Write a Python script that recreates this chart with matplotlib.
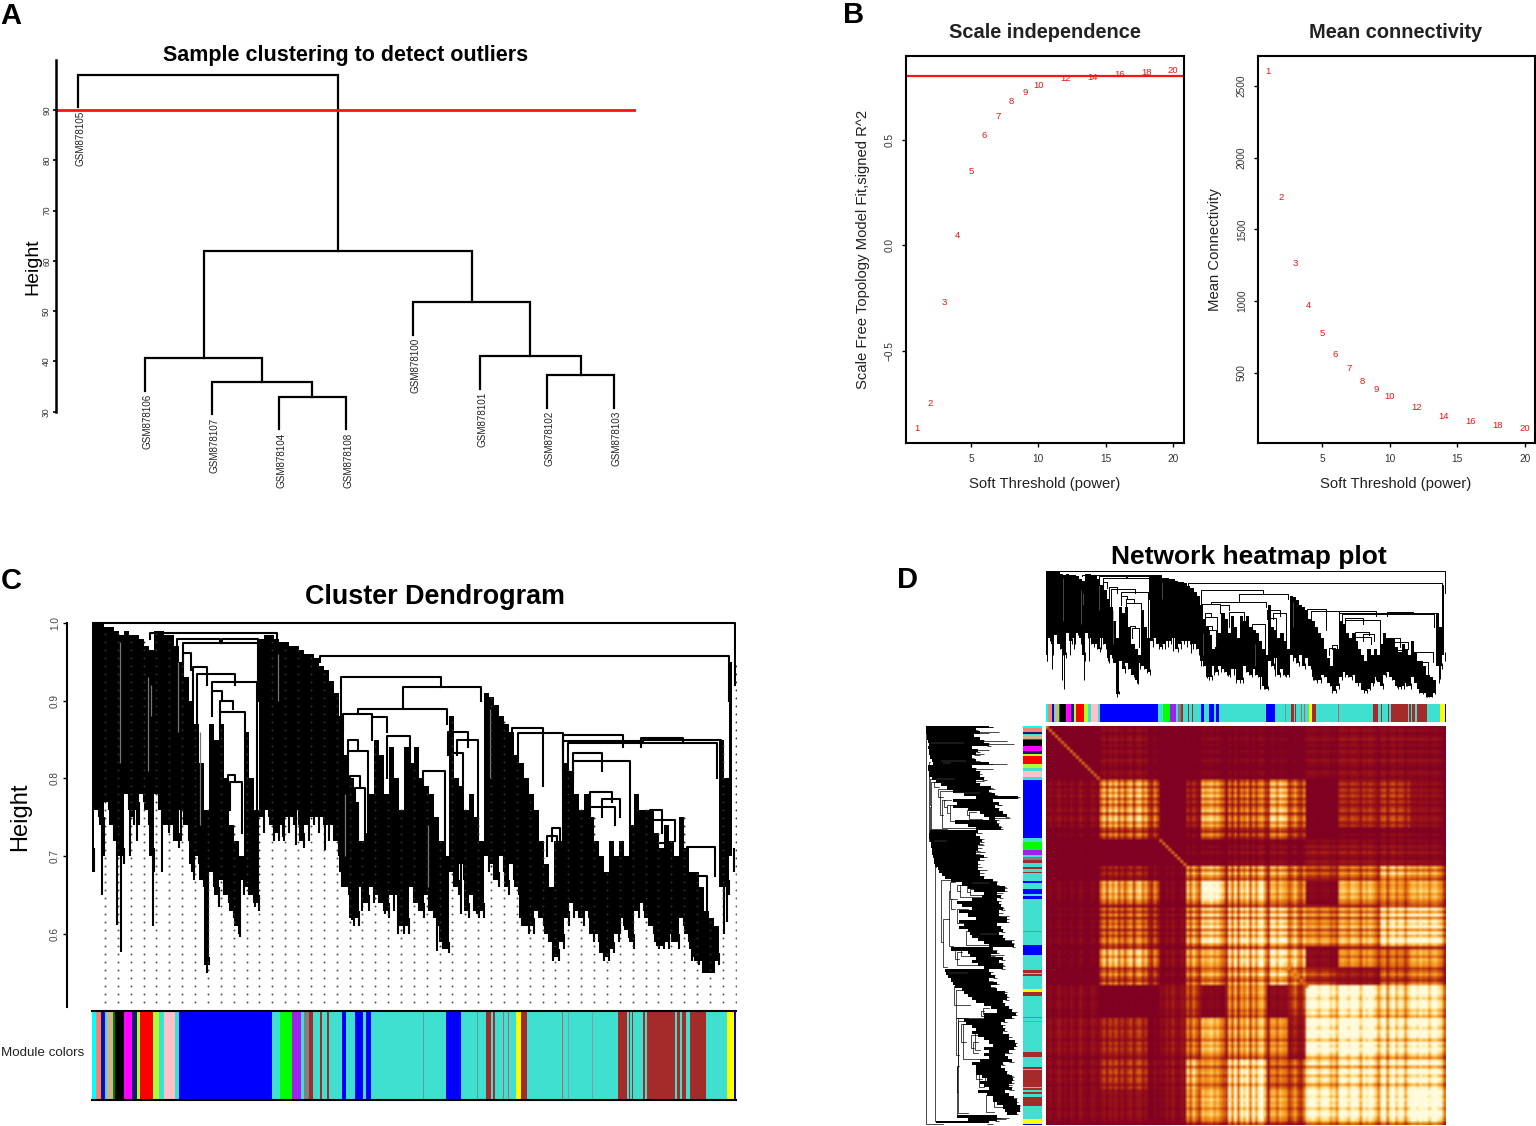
import matplotlib
matplotlib.use("Agg")
import matplotlib.pyplot as plt
import numpy as np
from matplotlib.colors import LinearSegmentedColormap

plt.rcParams["font.family"] = ["Liberation Sans", "DejaVu Sans"]

WIDTH, HEIGHT = 1536, 1126

# panel A
sample_names = ["GSM878105", "GSM878106", "GSM878107", "GSM878104", "GSM878108",
                "GSM878100", "GSM878101", "GSM878102", "GSM878103"]
# left leaf/node, right leaf/node, height (negative = leaf number, positive = merge row)
sample_merges = [(-4, -5, 33.0), (-3, 1, 36.0), (-2, 2, 40.7), (-8, -9, 37.3),
                 (-7, 4, 41.0), (-6, 5, 51.8), (3, 6, 62.0), (-1, 7, 97.0)]
sample_hang = 6.5
sample_cut = 90

# panel B
powers = [1, 2, 3, 4, 5, 6, 7, 8, 9, 10, 12, 14, 16, 18, 20]
fit_r2 = [-0.867, -0.75, -0.27, 0.043, 0.35, 0.517, 0.61, 0.682, 0.725, 0.758,
          0.79, 0.796, 0.806, 0.82, 0.825]
mean_conn = [2604, 1726, 1260, 967, 772, 632, 528, 444, 382, 333, 256, 200, 159, 131, 110]
fit_cut = 0.80

# gene tree, panels C and D. gene_pos runs along the leaves
gene_pos = [92 + 5 * i for i in range(129)]
mass_top = [1.0, 1.0, 1.0, .995, .995, .99, .985, .99, .985, .985, .98, .97, .965, .99, .99, .985,
            .985, .97, .95, .93, .90, .87, .82, .76, .87, .85, .87, .80, .74, .72, .70, .86,
            .80, .76, .98, .985, .985, .98, .975, .975, .97, .97, .965, .96, .96, .955, .945, .94,
            .925, .91, .88, .83, .80, .77, .72, .73, .78, .85, .83, .78, .84, .80, .76, .84,
            .82, .84, .80, .79, .78, .75, .72, .70, .88, .80, .79, .76, .78, .75, .72, .91,
            .905, .895, .88, .87, .86, .83, .82, .80, .78, .76, .72, .69, .66, .72, .72, .82,
            .81, .78, .76, .78, .75, .72, .70, .68, .72, .70, .72, .70, .74, .78, .76, .76,
            .76, .73, .71, .74, .72, .70, .75, .71, .68, .68, .66, .63, .62, .61, .85, .80,
            .95]
mass_bottom = [.70, .76, .74, .77, .74, .72, .70, .78, .75, .76, .78, .76, .70, .78, .76, .74,
               .74, .72, .76, .74, .69, .70, .67, .56, .68, .65, .67, .65, .63, .61, .67, .66,
               .65, .64, .75, .76, .74, .73, .74, .75, .75, .76, .72, .74, .75, .75, .75, .74,
               .74, .72, .68, .66, .62, .62, .66, .64, .66, .65, .64, .63, .65, .65, .61, .61,
               .66, .64, .63, .65, .63, .62, .59, .58, .68, .66, .69, .63, .65, .63, .63, .70,
               .69, .67, .70, .66, .69, .66, .62, .61, .61, .63, .62, .60, .59, .57, .59, .62,
               .64, .63, .62, .63, .60, .60, .575, .57, .58, .60, .62, .605, .59, .63, .64, .62,
               .61, .59, .585, .59, .60, .59, .62, .60, .58, .565, .565, .55, .55, .565, .66, .66,
               .70]
# thin loose leaves below the mass, one next to each gene_pos
fringe_bottom = [.68, .75, .70, .76, .72, .70, .69, .76, .74, .74, .77, .74, .68, .76, .74, .73,
                 .72, .71, .74, .72, .67, .69, .66, .56, .66, .64, .65, .64, .62, .60, .65, .65,
                 .64, .63, .73, .75, .72, .72, .72, .73, .74, .74, .71, .72, .74, .73, .74, .72,
                 .72, .70, .66, .65, .61, .61, .64, .63, .64, .64, .63, .62, .63, .64, .60, .60,
                 .64, .63, .62, .63, .62, .61, .58, .575, .66, .65, .67, .62, .63, .62, .62, .68,
                 .67, .66, .68, .65, .67, .65, .61, .60, .60, .62, .61, .59, .58, .565, .58, .61,
                 .62, .62, .61, .62, .59, .59, .57, .565, .575, .59, .61, .595, .58, .62, .63, .61,
                 .60, .58, .58, .58, .59, .58, .61, .59, .57, .56, .56, .55, .55, .56, .64, .65,
                 .68]
spike_pos = [93, 102, 117, 121, 130, 137, 153, 162, 181, 192, 207, 219, 240, 255, 283, 296,
             325, 342, 352, 362, 385, 398, 437, 443, 461, 477, 522, 527, 553, 604, 620, 638,
             657, 672, 692, 703, 706, 714, 724, 727]
spike_bottom = [.68, .65, .612, .577, .70, .72, .61, .68, .72, .68, .55, .635, .596, .635, .725, .715,
                .708, .66, .618, .63, .625, .60, .578, .58, .625, .625, .61, .61, .565, .565, .60, .63,
                .585, .59, .565, .55, .55, .565, .60, .615]
# pale slits inside the mass: position, upper and lower height
slit_pos = [120, 148, 151, 178, 200, 278, 345, 428, 490]
slit_top = [.975, .93, .92, .95, .86, .96, .78, .74, .89]
slit_bottom = [.82, .81, .88, .86, .74, .90, .70, .66, .80]
# left, right, height, where the left leg ends, where the right leg ends
tree_brackets = [
    (92, 735, 1.0, .99, .92), (320, 729, .957, .95, .90), (150, 277, .987, .98, .98),
    (341, 441, .93, .88, .918), (403, 481, .918, .892, .90), (358, 447, .89, .885, .87),
    (343, 372, .883, .86, .875), (372, 387, .879, .85, .86), (387, 410, .854, .80, .82),
    (423, 445, .809, .73, .687), (448, 468, .86, .83, .84), (457, 478, .85, .83, .72),
    (452, 463, .833, .79, .79), (512, 543, .865, .84, .79), (518, 563, .858, .80, .70),
    (547, 557, .726, .70, .65), (552, 560, .736, .72, .72), (563, 623, .856, .84, .84),
    (563, 641, .848, .80, .84), (641, 683, .852, .845, .845), (643, 721, .85, .845, .80),
    (568, 717, .846, .81, .80), (573, 602, .833, .80, .81), (573, 630, .823, .79, .73),
    (590, 612, .783, .75, .77), (602, 620, .773, .75, .75), (588, 615, .763, .72, .74),
    (650, 662, .76, .75, .73), (650, 675, .747, .72, .72), (655, 672, .717, .68, .68),
    (687, 715, .712, .68, .674), (693, 707, .674, .66, .61),
    (183, 258, .974, .95, .90), (177, 220, .98, .97, .974), (222, 258, .98, .974, .974),
    (183, 191, .962, .90, .94), (193, 207, .944, .90, .92), (197, 235, .935, .80, .92),
    (212, 257, .924, .91, .76), (212, 222, .912, .88, .90), (220, 233, .90, .886, .89),
    (220, 245, .886, .86, .85), (230, 242, .795, .76, .73), (228, 235, .805, .79, .795),
    (348, 358, .85, .83, .835), (348, 368, .835, .80, .72), (350, 360, .803, .76, .788),
    (355, 365, .788, .74, .72), (352, 358, .768, .72, .72),
]

# module colours, panels C and D: where each stripe ends on gene_pos, and its colour
color_ends = [96, 101, 103, 105, 107, 113, 115, 124, 132, 137, 140, 153, 159, 164, 175, 179, 272, 280,
              292, 301, 304, 309, 313, 320, 322, 327, 329, 342, 346, 347, 355, 363, 366, 371, 423, 424,
              446, 461, 477, 478, 486, 491, 493, 495, 503, 504, 508, 509, 516, 521, 527, 562, 563, 568,
              569, 592, 593, 618, 627, 629, 630, 632, 633, 635, 643, 645, 647, 675, 677, 680, 682, 686,
              690, 706, 727, 734, 736]
color_names = ["cyan", "salmon", "midnightblue", "blue", "turquoise", "tan", "green", "black", "magenta",
               "midnightblue", "greenyellow", "red", "greenyellow", "turquoise", "pink", "turquoise",
               "blue", "turquoise", "lime", "#a020f0", "turquoise", "gray", "brown", "turquoise", "brown",
               "turquoise", "brown", "turquoise", "blue", "turquoise", "turquoise", "blue", "turquoise",
               "blue", "turquoise", "#5f9ea0", "turquoise", "blue", "turquoise", "#5f9ea0", "turquoise", "brown",
               "turquoise", "brown", "turquoise", "#c06060", "turquoise", "#c06060", "turquoise", "yellow",
               "brown", "turquoise", "#c06060", "turquoise", "#7fa0a0", "turquoise", "#7fa0a0", "turquoise",
               "brown", "turquoise", "brown", "turquoise", "brown", "turquoise", "turquoise", "brown",
               "turquoise", "brown", "turquoise", "brown", "turquoise", "brown", "turquoise", "brown",
               "turquoise", "yellow", "blue"]

# panel D: module-block limits along the leaves, mean block shade (upper triangle), stripe strength
block_edges = [0, 54, 102, 112, 140, 154, 180, 221, 241, 260, 294, 334, 364, 400]
block_shade = [
    [.08, .18, .12, .10, .08, .12, .12, .10, .10, .15, .18, .18, .15],
    [.65, .50, .06, .25, .60, .45, .65, .60, .06, .25, .30, .15],
    [.35, .06, .15, .50, .35, .50, .45, .06, .10, .15, .10],
    [.10, .15, .15, .20, .20, .20, .25, .25, .25, .20],
    [.60, .65, .60, .60, .65, .35, .45, .70, .55],
    [.90, .70, .55, .70, .10, .55, .50, .55],
    [.80, .75, .80, .50, .55, .85, .80],
    [.75, .90, .12, .45, .40, .50],
    [.90, .40, .25, .50, .55],
    [.90, .90, .75, .80],
    [.95, .80, .80],
    [.85, .85],
    [.95],
]
stripe_strength = [70, 100, 60, 85, 125, 65, 95, 55, 110, 75, 60, 130, 85, 70, 55, 115, 90, 65,
                   85, 125, 70, 130, 95, 135, 75, 120, 70, 110, 135, 65, 125, 140, 85, 115,
                   80, 60, 120, 75, 60, 50, 90, 55, 105, 60, 50, 85, 70,
                   120, 75, 130, 90, 65, 130, 115, 125, 140, 110, 130, 100, 80,
                   45, 125, 75, 135, 65, 125, 100, 140, 70, 130, 85, 135, 145, 85,
                   50, 130, 135, 95, 140, 125, 115, 60, 80, 110, 70, 55, 95,
                   120, 125, 135, 120, 100, 125, 130, 125, 95, 110, 80,
                   130, 140, 125, 105, 145, 135, 125, 85, 140, 115, 145, 125, 100, 70,
                   120, 135, 75, 125, 140, 95, 130, 120, 80, 115,
                   130, 135, 115, 145, 125, 135, 100, 130, 140, 115, 100, 55]
# stretches of the diagonal that stand out as a thin bright line
diagonal_starts = [0, 112, 241]
diagonal_ends = [54, 140, 262]

fig = plt.figure(figsize=(WIDTH / 100, HEIGHT / 100), dpi=100)


def add_axes(left, top, right, bottom):
    return fig.add_axes([left / WIDTH, 1 - bottom / HEIGHT, (right - left) / WIDTH, (bottom - top) / HEIGHT])


def fig_text(x, y, text, **kwargs):
    fig.text(x / WIDTH, 1 - y / HEIGHT, text, va="center", **kwargs)


def draw_tree(ax, lw, sideways=False):
    # sideways swaps the axes so the same tree can hang from the left
    if sideways:
        ax.fill_betweenx(gene_pos, mass_bottom, mass_top, step="mid", color="black", linewidth=0)
    else:
        ax.fill_between(gene_pos, mass_bottom, mass_top, step="mid", color="black", linewidth=0)

    def line(x, y1, y2, color="black", width=lw):
        if sideways:
            ax.plot([y1, y2], [x, x], color=color, lw=width, solid_capstyle="butt")
        else:
            ax.plot([x, x], [y1, y2], color=color, lw=width, solid_capstyle="butt")

    for pos, low, high in zip(gene_pos, fringe_bottom, mass_bottom):
        line(pos + 2, low, high + 0.01)
    for pos, low in zip(spike_pos, spike_bottom):
        column = min(range(len(gene_pos)), key=lambda i: abs(gene_pos[i] - pos))
        line(pos, low, mass_bottom[column] + 0.01)
    for pos, high, low in zip(slit_pos, slit_top, slit_bottom):
        line(pos, low, high, color="#777777", width=lw * 0.6)
    for left, right, h, left_end, right_end in tree_brackets:
        if sideways:
            ax.plot([left_end, h, h, right_end], [left, left, right, right], color="black", lw=lw)
        else:
            ax.plot([left, left, right, right], [left_end, h, h, right_end], color="black", lw=lw)


def draw_colors(ax, sideways=False):
    start = gene_pos[0]
    for end, name in zip(color_ends, color_names):
        if sideways:
            ax.barh(start, 1, height=end - start, align="edge", color=name, linewidth=0)
        else:
            ax.bar(start, 1, width=end - start, align="edge", color=name, linewidth=0)
        start = end


# A
ax = add_axes(56, 60, 636, 500)
ax.set_xlim(0.672, 9.328)
ax.set_ylim(12.46, 99.94)
nodes = {}
for i, (a, b, h) in enumerate(sample_merges, start=1):
    spots = []
    for child in (a, b):
        if child < 0:
            x = -child
            low = h - sample_hang
            ax.text(x + 0.035, low - 0.6, sample_names[x - 1], rotation=90, ha="center", va="top",
                    fontsize=7.1, color="#222222")
        else:
            x, low = nodes[child]
        spots.append((x, low))
    ax.plot([spots[0][0], spots[0][0], spots[1][0], spots[1][0]],
            [spots[0][1], h, h, spots[1][1]], color="black", lw=1.6, solid_joinstyle="miter")
    nodes[i] = ((spots[0][0] + spots[1][0]) / 2, h)
ax.axhline(sample_cut, color="#fa1414", lw=2)
for side in ["top", "right", "bottom"]:
    ax.spines[side].set_visible(False)
ax.spines["left"].set_bounds(30, 100)
ax.spines["left"].set_linewidth(1.8)
ax.set_xticks([])
ax.set_yticks([30, 40, 50, 60, 70, 80, 90])
ax.tick_params(axis="y", labelsize=6.2, length=2.5, width=1.2, pad=1, labelcolor="#333333")
plt.setp(ax.get_yticklabels(), rotation=90, va="center")
fig_text(33, 267, "Height", rotation=90, ha="center", fontsize=14)
fig_text(346, 55, "Sample clustering to detect outliers", ha="center", fontsize=15.5, fontweight="bold")

# B
fit_ax = add_axes(906, 56, 1184, 443)
fit_ax.set_xlim(0.174, 20.81)
fit_ax.set_ylim(-0.938, 0.896)
fit_ax.axhline(fit_cut, color="#fa1414", lw=1.6)
for p, v in zip(powers, fit_r2):
    fit_ax.text(p, v, str(p), color="#ee1111", fontsize=6.8, ha="center", va="center")
fit_ax.set_yticks([-0.5, 0.0, 0.5])

conn_ax = add_axes(1258, 56, 1535, 443)
conn_ax.set_xlim(0.27, 20.74)
conn_ax.set_ylim(12, 2709)
for p, v in zip(powers, mean_conn):
    conn_ax.text(p, v, str(p), color="#ee1111", fontsize=6.8, ha="center", va="center")
conn_ax.set_yticks([500, 1000, 1500, 2000, 2500])

for ax in (fit_ax, conn_ax):
    ax.set_xticks([5, 10, 15, 20])
    ax.tick_params(labelsize=7.3, length=3, width=1, pad=5, labelcolor="#333333")
    plt.setp(ax.get_yticklabels(), rotation=90, va="center")
    for spine in ax.spines.values():
        spine.set_linewidth(1.5)
fig_text(1045, 484, "Soft Threshold (power)", ha="center", fontsize=10.7, color="#222222")
fig_text(1396, 484, "Soft Threshold (power)", ha="center", fontsize=10.7, color="#222222")
fig_text(863, 249, "Scale Free Topology Model Fit,signed R^2", rotation=90, ha="center", fontsize=10.7, color="#222222")
fig_text(1215, 250, "Mean Connectivity", rotation=90, ha="center", fontsize=10.7, color="#222222")
fig_text(1045, 33, "Scale independence", ha="center", fontsize=14.4, fontweight="bold", color="#222222")
fig_text(1396, 33, "Mean connectivity", ha="center", fontsize=14.4, fontweight="bold", color="#222222")

# C
ax = add_axes(92, 615, 736, 1007)
ax.set_xlim(92, 736)
ax.set_ylim(0.506, 1.0103)
draw_tree(ax, 1.5)
for guide in np.arange(105, 737, 12.87):
    nearest = min(range(len(gene_pos)), key=lambda i: abs(gene_pos[i] - guide))
    levels = np.arange(0.5125, mass_top[nearest], 0.0103)
    below = levels < fringe_bottom[nearest]
    ax.scatter(np.full(below.sum(), guide), levels[below], s=2, color="#555555", linewidths=0, zorder=1)
    ax.scatter(np.full((~below).sum(), guide), levels[~below], s=2, color="#303030", linewidths=0, zorder=5)
for side in ["top", "right", "bottom"]:
    ax.spines[side].set_visible(False)
ax.spines["left"].set_position(("outward", 18))
ax.spines["left"].set_bounds(0.506, 1.0)
ax.spines["left"].set_linewidth(1.5)
ax.set_xticks([])
ax.set_yticks([0.6, 0.7, 0.8, 0.9, 1.0])
ax.tick_params(axis="y", labelsize=7.2, length=3, width=1, pad=2, labelcolor="#444444")
plt.setp(ax.get_yticklabels(), rotation=90, va="center")

bar_ax = add_axes(92, 1011, 736, 1100)
bar_ax.set_xlim(92, 736)
bar_ax.set_ylim(0, 1)
draw_colors(bar_ax)
bar_ax.set_xticks([])
bar_ax.set_yticks([])
for side in ["left", "right"]:
    bar_ax.spines[side].set_visible(False)
for side in ["top", "bottom"]:
    bar_ax.spines[side].set_linewidth(1.5)

fig_text(20, 817, "Height", rotation=90, ha="center", fontsize=17)
fig_text(435, 597, "Cluster Dendrogram", ha="center", fontsize=19.4, fontweight="bold")
fig_text(84, 1053, "Module colors", ha="right", fontsize=9.6, color="#222222")

# D
top_ax = add_axes(1046, 565, 1446, 702)
top_ax.set_xlim(92, 736)
top_ax.set_ylim(0.532, 1.021)
draw_tree(top_ax, 0.7)
top_ax.axis("off")

left_ax = add_axes(920, 726, 1022, 1125)
left_ax.set_xlim(1.029, 0.54)
left_ax.set_ylim(736, 92)
draw_tree(left_ax, 0.5, sideways=True)
left_ax.axis("off")

top_bar = add_axes(1046, 704, 1446, 722)
top_bar.set_xlim(92, 736)
top_bar.set_ylim(0, 1)
draw_colors(top_bar)
top_bar.axis("off")

left_bar = add_axes(1023, 726, 1042, 1125)
left_bar.set_xlim(0, 1)
left_bar.set_ylim(736, 92)
draw_colors(left_bar, sideways=True)
left_bar.axis("off")

shade = np.zeros((13, 13))
for i, row in enumerate(block_shade):
    for j, value in enumerate(row):
        shade[i, i + j] = value
        shade[i + j, i] = value
strength = np.array(stripe_strength) / 100
cell_pos = (np.arange(len(strength)) + 0.5) * block_edges[-1] / len(strength)
cell_block = np.searchsorted(block_edges, cell_pos) - 1
heat = np.clip(0.85 * shade[np.ix_(cell_block, cell_block)] * np.outer(strength, strength) - 0.07, 0, 1)
for start, end in zip(diagonal_starts, diagonal_ends):
    for k in np.where((cell_pos >= start) & (cell_pos < end))[0]:
        heat[k, k] = 0.45

tom_colors = LinearSegmentedColormap.from_list(
    "tom", ["#7f0022", "#a31a14", "#d9640f", "#f59a20", "#ffd873", "#fffbdc"])
heat_ax = add_axes(1046, 726, 1446, 1125)
heat_ax.imshow(heat, cmap=tom_colors, vmin=0, vmax=1, aspect="auto", interpolation="bilinear")
heat_ax.axis("off")

fig_text(1249, 557, "Network heatmap plot", ha="center", fontsize=19, fontweight="bold")

fig_text(0, 16, "A", fontsize=21, fontweight="bold")
fig_text(843, 15, "B", fontsize=21, fontweight="bold")
fig_text(1, 581, "C", fontsize=21, fontweight="bold")
fig_text(897, 580, "D", fontsize=21, fontweight="bold")

fig.savefig("out.png", dpi=100)
